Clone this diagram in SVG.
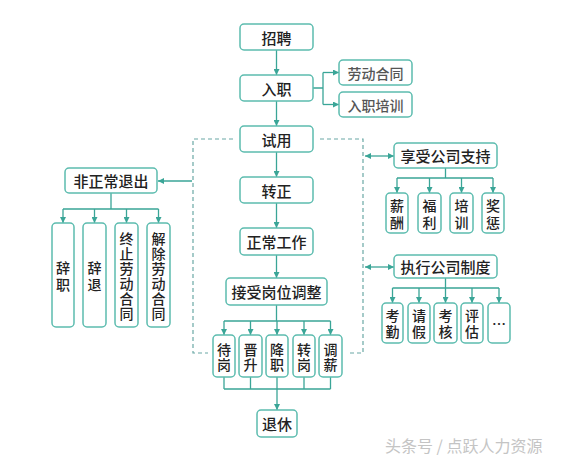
<svg xmlns="http://www.w3.org/2000/svg" width="570" height="463" viewBox="0 0 570 463">
<defs>
<marker id="ah" markerUnits="userSpaceOnUse" markerWidth="7" markerHeight="6" refX="6" refY="3" orient="auto-start-reverse">
<path d="M0,0 L6,3 L0,6 z" fill="#3aa597"/>
</marker>
<style>
.b{fill:#fff;stroke:#5cbcaf;stroke-width:1.5}
.t{font-family:"Noto Sans CJK SC","Noto Sans",sans-serif;font-size:15px;fill:#222;text-anchor:middle;dominant-baseline:central;font-weight:500}
.v{font-size:14px}
.g{fill:#555;font-size:14px}
.c{fill:none;stroke:#3aa597;stroke-width:1.3}
.a{marker-end:url(#ah)}
.d{marker-start:url(#ah);marker-end:url(#ah)}
.ds{fill:none;stroke:#6aa8a5;stroke-width:1.2;stroke-dasharray:4 3}
.w{font-family:"Noto Sans CJK SC","Noto Sans",sans-serif;font-size:16px;fill:#c4c4c4}
</style>
</defs>
<rect width="570" height="463" fill="#fff"/>

<g id="connectors">
<path class="c a" d="M276.5,50 V75"/>
<path class="c a" d="M276.5,101 V126"/>
<path class="c" d="M313,88 H323 M323,72.5 V104.5"/>
<path class="c a" d="M323,72.5 H339"/>
<path class="c a" d="M323,104.5 H339"/>
<path class="c a" d="M276.5,152 V177"/>
<path class="c a" d="M276.5,203 V228"/>
<path class="c a" d="M276.5,255 V278"/>
<path class="ds" d="M233,139 H193 V353 H208"/>
<path class="ds" d="M320,139 H363 V353 H348"/>
<path class="c a" d="M192,181 H158"/>
<path class="c d" d="M365,156 H394"/>
<path class="c d" d="M365,267 H394"/>
<path class="c" d="M111,193 V209 M63,209 H158.5"/>
<path class="c a" d="M63,209 V223"/>
<path class="c a" d="M94.5,209 V223"/>
<path class="c a" d="M126.5,209 V223"/>
<path class="c a" d="M158.5,209 V223"/>
<path class="c" d="M445.5,168 V178 M397,178 H493"/>
<path class="c a" d="M397,178 V193"/>
<path class="c a" d="M429.5,178 V193"/>
<path class="c a" d="M461.5,178 V193"/>
<path class="c a" d="M493,178 V193"/>
<path class="c" d="M445.5,278 V288 M392.5,288 H499"/>
<path class="c a" d="M392.5,288 V303"/>
<path class="c a" d="M419,288 V303"/>
<path class="c a" d="M445.5,288 V303"/>
<path class="c a" d="M472,288 V303"/>
<path class="c a" d="M499,288 V303"/>
<path class="c" d="M276.5,305 V321 M224,321 H330.5"/>
<path class="c a" d="M224,321 V335"/>
<path class="c a" d="M250.5,321 V335"/>
<path class="c a" d="M277,321 V335"/>
<path class="c a" d="M304,321 V335"/>
<path class="c a" d="M330.5,321 V335"/>
<path class="c" d="M224,377 V389 M250.5,377 V389 M277,377 V389 M304,377 V389 M330.5,377 V389 M224,389 H330.5"/>
<path class="c a" d="M277,389 V410"/>
</g>

<g id="n-zhaopin"><rect class="b" x="240" y="24" width="73" height="26" rx="4"/><text class="t" x="276.5" y="37">招聘</text></g>
<g id="n-ruzhi"><rect class="b" x="240" y="75" width="73" height="26" rx="4"/><text class="t" x="276.5" y="88">入职</text></g>
<g id="n-laodong"><rect class="b" x="339" y="60" width="73" height="25" rx="4"/><text class="t g" x="375.5" y="72.5">劳动合同</text></g>
<g id="n-peixun1"><rect class="b" x="339" y="92" width="73" height="25" rx="4"/><text class="t g" x="375.5" y="104.5">入职培训</text></g>
<g id="n-shiyong"><rect class="b" x="240" y="126" width="73" height="26" rx="4"/><text class="t" x="276.5" y="139">试用</text></g>
<g id="n-zhuanzheng"><rect class="b" x="240" y="177" width="73" height="26" rx="4"/><text class="t" x="276.5" y="190">转正</text></g>
<g id="n-zhengchang"><rect class="b" x="240" y="228" width="73" height="27" rx="4"/><text class="t" x="276.5" y="241.5">正常工作</text></g>
<g id="n-jieshou"><rect class="b" x="226" y="278" width="101" height="27" rx="4"/><text class="t" x="276.5" y="291.5">接受岗位调整</text></g>

<g id="n-feizhengchang"><rect class="b" x="65" y="168" width="92" height="25" rx="4"/><text class="t" x="111" y="180.5">非正常退出</text></g>
<g id="n-cizhi"><rect class="b" x="52" y="223" width="22" height="104" rx="4"/><text class="t v" x="63" y="267">辞</text><text class="t v" x="63" y="284">职</text></g>
<g id="n-citui"><rect class="b" x="83" y="223" width="23" height="104" rx="4"/><text class="t v" x="94.5" y="267">辞</text><text class="t v" x="94.5" y="284">退</text></g>
<g id="n-zhongzhi"><rect class="b" x="115" y="223" width="23" height="104" rx="4"/><text class="t v" x="126.5" y="238">终</text><text class="t v" x="126.5" y="253">止</text><text class="t v" x="126.5" y="268">劳</text><text class="t v" x="126.5" y="283">动</text><text class="t v" x="126.5" y="298">合</text><text class="t v" x="126.5" y="313">同</text></g>
<g id="n-jiechu"><rect class="b" x="147" y="223" width="23" height="104" rx="4"/><text class="t v" x="158.5" y="238">解</text><text class="t v" x="158.5" y="253">除</text><text class="t v" x="158.5" y="268">劳</text><text class="t v" x="158.5" y="283">动</text><text class="t v" x="158.5" y="298">合</text><text class="t v" x="158.5" y="313">同</text></g>

<g id="n-xiangshou"><rect class="b" x="394" y="143" width="103" height="25" rx="4"/><text class="t" x="445.5" y="155.5">享受公司支持</text></g>
<g id="n-xinchou"><rect class="b" x="386" y="193" width="22" height="40" rx="4"/><text class="t v" x="397" y="205">薪</text><text class="t v" x="397" y="222">酬</text></g>
<g id="n-fuli"><rect class="b" x="418" y="193" width="23" height="40" rx="4"/><text class="t v" x="429.5" y="205">福</text><text class="t v" x="429.5" y="222">利</text></g>
<g id="n-peixun2"><rect class="b" x="450" y="193" width="23" height="40" rx="4"/><text class="t v" x="461.5" y="205">培</text><text class="t v" x="461.5" y="222">训</text></g>
<g id="n-jiangcheng"><rect class="b" x="482" y="193" width="22" height="40" rx="4"/><text class="t v" x="493" y="205">奖</text><text class="t v" x="493" y="222">惩</text></g>

<g id="n-zhixing"><rect class="b" x="394" y="255" width="103" height="23" rx="4"/><text class="t" x="445.5" y="266.5">执行公司制度</text></g>
<g id="n-kaoqin"><rect class="b" x="382" y="303" width="21" height="40" rx="4"/><text class="t v" x="392.5" y="315">考</text><text class="t v" x="392.5" y="331">勤</text></g>
<g id="n-qingjia"><rect class="b" x="408" y="303" width="22" height="40" rx="4"/><text class="t v" x="419" y="315">请</text><text class="t v" x="419" y="331">假</text></g>
<g id="n-kaohe"><rect class="b" x="434" y="303" width="23" height="40" rx="4"/><text class="t v" x="445.5" y="315">考</text><text class="t v" x="445.5" y="331">核</text></g>
<g id="n-pinggu"><rect class="b" x="461" y="303" width="22" height="40" rx="4"/><text class="t v" x="472" y="315">评</text><text class="t v" x="472" y="331">估</text></g>
<g id="n-more"><rect class="b" x="488" y="303" width="22" height="40" rx="4"/><text class="t v" x="499" y="323">…</text></g>

<g id="n-daigang"><rect class="b" x="213" y="335" width="22" height="42" rx="4"/><text class="t v" x="224" y="348.5">待</text><text class="t v" x="224" y="363.5">岗</text></g>
<g id="n-jinsheng"><rect class="b" x="239" y="335" width="23" height="42" rx="4"/><text class="t v" x="250.5" y="348.5">晋</text><text class="t v" x="250.5" y="363.5">升</text></g>
<g id="n-jiangzhi"><rect class="b" x="266" y="335" width="22" height="42" rx="4"/><text class="t v" x="277" y="348.5">降</text><text class="t v" x="277" y="363.5">职</text></g>
<g id="n-zhuangang"><rect class="b" x="293" y="335" width="22" height="42" rx="4"/><text class="t v" x="304" y="348.5">转</text><text class="t v" x="304" y="363.5">岗</text></g>
<g id="n-tiaoxin"><rect class="b" x="319" y="335" width="23" height="42" rx="4"/><text class="t v" x="330.5" y="348.5">调</text><text class="t v" x="330.5" y="363.5">薪</text></g>

<g id="n-tuixiu"><rect class="b" x="257" y="410" width="40" height="27" rx="4"/><text class="t" x="277" y="423.5">退休</text></g>

<text class="w" x="385" y="452">头条号 / 点跃人力资源</text>
</svg>
